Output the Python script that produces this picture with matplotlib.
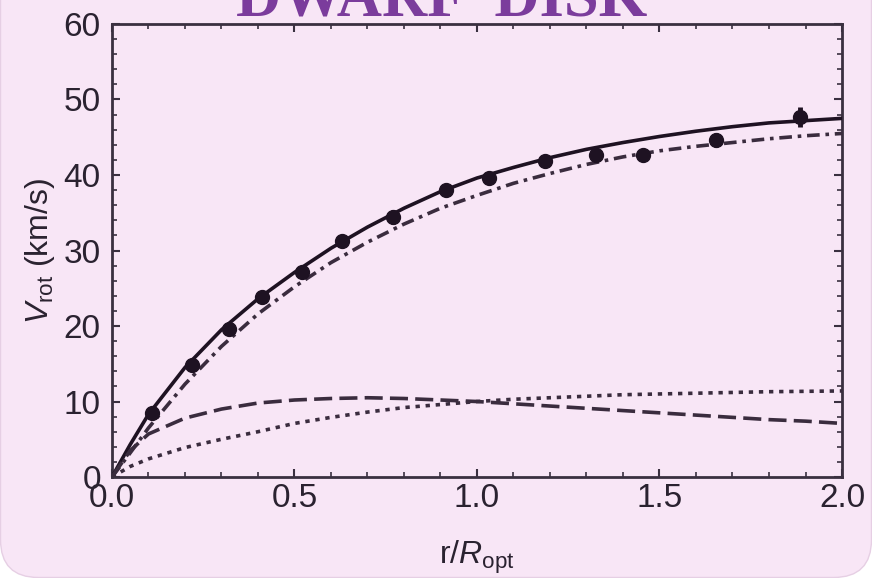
# coding=utf-8
# Rotation curve of a dwarf disk galaxy: data + mass-model components
import numpy as np
import matplotlib as mpl
mpl.use('Agg')
import matplotlib.pyplot as plt
from matplotlib.patches import FancyBboxPatch
from matplotlib.ticker import MultipleLocator

# Observed rotation velocities
r_obs = [0.11, 0.22, 0.32, 0.41, 0.52, 0.63, 0.77, 0.915, 1.033, 1.186, 1.326, 1.455, 1.655, 1.885]
v_obs = [8.5, 14.8, 19.6, 23.8, 27.2, 31.3, 34.4, 38.0, 39.6, 41.9, 42.6, 42.6, 44.6, 47.7]
v_err = [0.5, 0.5, 0.6, 0.5, 0.8, 0.5, 0.9, 0.5, 0.5, 0.5, 0.9, 0.5, 0.9, 1.3]

# Model curves sampled on r/R_opt
r_mod = [0.0, 0.05, 0.1, 0.2, 0.3, 0.4, 0.5, 0.6, 0.7, 0.8, 0.9, 1.0,
         1.1, 1.2, 1.3, 1.4, 1.5, 1.6, 1.7, 1.8, 1.9, 2.0]
v_total = [0.0, 4.3, 8.3, 14.5, 19.5, 23.6, 27.1, 30.3, 33.1, 35.6, 37.8, 39.6,
           41.0, 42.3, 43.4, 44.3, 45.1, 45.8, 46.4, 46.9, 47.2, 47.5]
v_disk = [0.0, 3.2, 6.5, 12.3, 17.3, 21.6, 25.2, 28.4, 31.1, 33.5, 35.6, 37.3,
          38.9, 40.2, 41.4, 42.4, 43.2, 43.8, 44.3, 44.8, 45.2, 45.5]
v_halo = [0.0, 3.5, 5.7, 7.8, 9.0, 9.8, 10.2, 10.4, 10.5, 10.4, 10.2, 10.0,
          9.7, 9.4, 9.1, 8.8, 8.5, 8.2, 7.9, 7.6, 7.4, 7.1]
v_gas = [0.0, 1.4, 2.4, 3.9, 5.0, 6.0, 7.1, 7.9, 8.6, 9.2, 9.6, 10.0,
         10.3, 10.5, 10.7, 10.9, 11.0, 11.1, 11.2, 11.3, 11.35, 11.4]

bg = '#f8e6f6'
ink = '#1e1222'
ink2 = '#3a2c3e'
txt = '#2a2230'

plt.rcParams['font.family'] = ['Liberation Sans', 'DejaVu Sans']
plt.rcParams['mathtext.fontset'] = 'custom'
plt.rcParams['mathtext.rm'] = 'Liberation Sans'
plt.rcParams['mathtext.it'] = 'Liberation Sans:italic'

fig = plt.figure(figsize=(8.72, 5.78), dpi=100, facecolor='white')
panel = FancyBboxPatch((0.5, 0.5), 871, 660, boxstyle='round,pad=0,rounding_size=38',
                       transform=None, facecolor=bg, edgecolor='#e6cfe4', lw=1, zorder=-10)
fig.patches.append(panel)

ax = fig.add_axes([0.1284, 0.1747, 0.8372, 0.7838])
ax.set_facecolor('none')

ax.plot(r_mod, v_total, color=ink, lw=2.6, ls='-', zorder=3)
ax.plot(r_mod, v_disk, color=ink2, lw=2.6, ls=(0, (3.5, 1.6, 1, 1.6)), zorder=3)
ax.plot(r_mod, v_halo, color=ink2, lw=2.6, ls=(0, (5, 2)), zorder=3)
ax.plot(r_mod, v_gas, color=ink2, lw=2.6, ls=(0, (1.2, 1.6)), zorder=3)
ax.errorbar(r_obs, v_obs, yerr=v_err, fmt='o', ms=10, color=ink, mfc=ink, mec=ink,
            elinewidth=3.5, capsize=0, zorder=5)

ax.set_xlim(0, 2.0)
ax.set_ylim(0, 60)
ax.xaxis.set_major_locator(MultipleLocator(0.5))
ax.xaxis.set_minor_locator(MultipleLocator(0.1))
ax.yaxis.set_major_locator(MultipleLocator(10))
ax.yaxis.set_minor_locator(MultipleLocator(2))
ax.set_xticks([0, 0.5, 1.0, 1.5, 2.0])
ax.set_xticklabels(['0.0', '0.5', '1.0', '1.5', '2.0'])
ax.tick_params(which='both', direction='in', top=True, right=True, color='#3a3040',
               labelsize=24, labelcolor=txt)
ax.tick_params(which='major', length=6, width=1.5, pad=4)
ax.tick_params(which='minor', length=3.5, width=1.2)
ax.tick_params(axis='y', which='major', pad=8)
for s in ax.spines.values():
    s.set_color('#3a3040')
    s.set_linewidth(2)

ax.set_xlabel(r'r/$\mathit{R}_{\rm opt}$', fontsize=23, color=txt, labelpad=18)
ax.set_ylabel(r'$\mathit{V}_{\rm rot}$ (km/s)', fontsize=23, color=txt, labelpad=5)

# Title, partly cut off by the top edge
fig.text(0.507, 1 - 15 / 578, 'DWARF  DISK', ha='center', va='baseline',
         fontsize=45, fontweight='bold', color='#7b3c9c', family='Liberation Serif')

fig.savefig('out.png', dpi=100, facecolor='white')
plt.close()
